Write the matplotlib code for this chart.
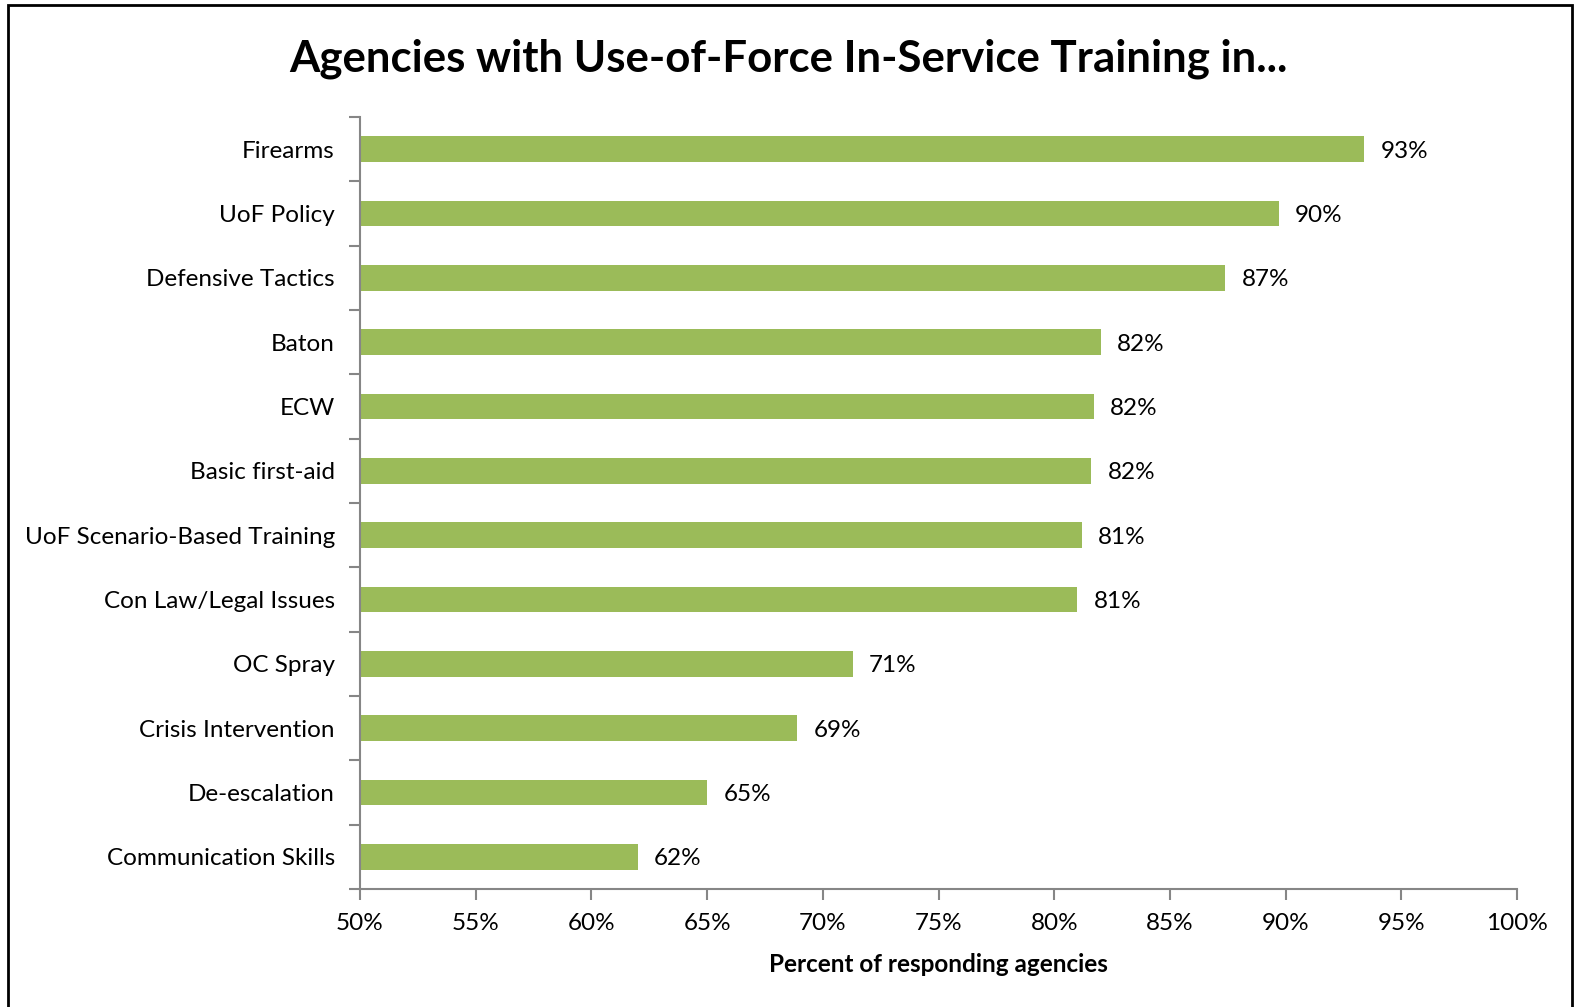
import numpy as np
import matplotlib.pyplot as plt
from matplotlib.patches import Rectangle

categories = ["Firearms", "UoF Policy", "Defensive Tactics", "Baton", "ECW",
              "Basic first-aid", "UoF Scenario-Based Training", "Con Law/Legal Issues",
              "OC Spray", "Crisis Intervention", "De-escalation", "Communication Skills"]
values = [93.4, 89.7, 87.4, 82.0, 81.7, 81.6, 81.2, 81.0, 71.3, 68.9, 65.0, 62.0]
xticks = [50, 55, 60, 65, 70, 75, 80, 85, 90, 95, 100]

plt.rcParams['font.family'] = ['Lato', 'DejaVu Sans']

fig = plt.figure(figsize=(15.76, 10.07), dpi=100)
ax = fig.add_axes([0.2284, 0.1172, 0.7342, 0.7666])

n = len(categories)
ypos = np.arange(n)[::-1]
ax.barh(ypos, values, height=0.4, color='#9BBB59', left=0)

for y, v in zip(ypos, values):
    ax.text(v + 0.7, y - 0.03, "%d%%" % round(v), va='center', ha='left', fontsize=17.5)

ax.set_xlim(50, 100)
ax.set_ylim(-0.5, n - 0.5)
ax.set_xticks(xticks)
ax.set_xticklabels(["%d%%" % t for t in xticks], fontsize=17.5)
ax.set_yticks(ypos)
ax.set_yticklabels(categories, fontsize=17.5)
ax.set_yticks(np.arange(n + 1) - 0.5, minor=True)
ax.tick_params(axis='y', which='major', length=0, pad=18)
ax.tick_params(axis='y', which='minor', length=8, color='#868686', width=1.5)
ax.tick_params(axis='x', which='major', length=8, color='#868686', width=1.5, pad=9)

for s in ['top', 'right']:
    ax.spines[s].set_visible(False)
for s in ['left', 'bottom']:
    ax.spines[s].set_color('#868686')
    ax.spines[s].set_linewidth(1.5)

ax.set_xlabel("Percent of responding agencies", fontsize=17.5, fontweight='bold', labelpad=14)
fig.text(0.5, 0.942, "Agencies with Use-of-Force In-Service Training in...",
         ha='center', va='center', fontsize=31.5, fontweight='bold')

fig.patches.append(Rectangle((8 / 1576, -0.05), (1572 - 8) / 1576, 1.05 - 5 / 1007,
                             transform=fig.transFigure, fill=False,
                             edgecolor='black', linewidth=2))

fig.savefig('out.png', dpi=100)
